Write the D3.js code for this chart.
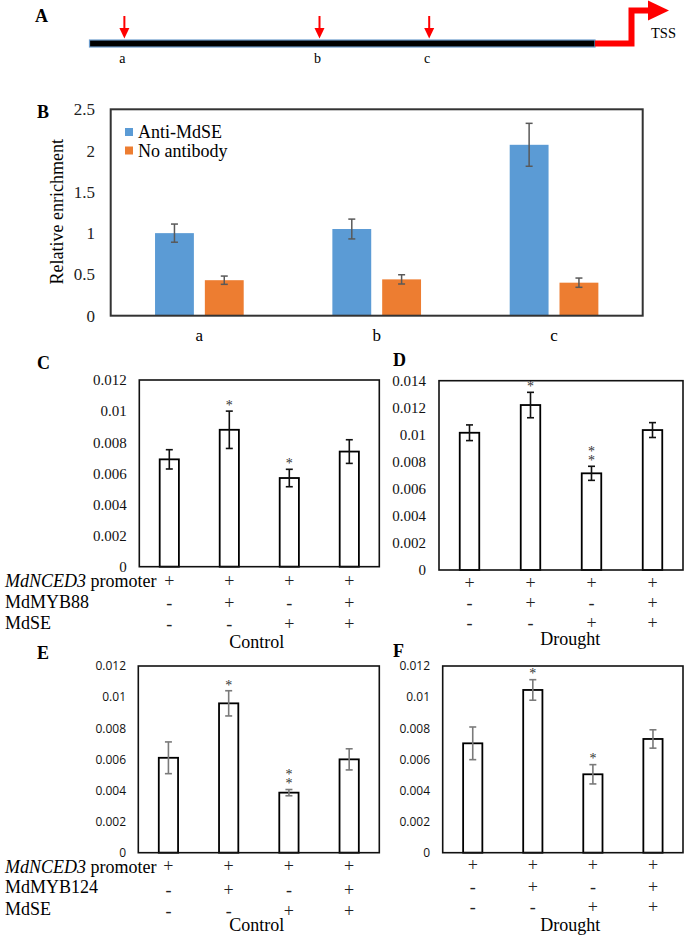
<!DOCTYPE html>
<html><head><meta charset="utf-8">
<script src="https://cdn.jsdelivr.net/npm/d3@7"></script>
<style>
body{margin:0;background:#fff}
svg{display:block}
</style>
</head><body>
<svg id="chart" width="685" height="935"></svg>
<script>
// ---------------- DATA ----------------
// Panel A: ChIP sites along the MdNCED3 promoter (fraction of promoter length, 5' -> TSS)
const sitesA = ["a", "b", "c"];
const sitePosA = [0.069, 0.455, 0.672];

// Panel B: ChIP-qPCR
const catsB = ["a", "b", "c"];
const seriesB = ["Anti-MdSE", "No antibody"];
const antiMdSE = [1.00, 1.05, 2.07];
const antiMdSEErr = [0.11, 0.12, 0.26];
const noAntibody = [0.43, 0.44, 0.40];
const noAntibodyErr = [0.05, 0.056, 0.056];
const ticksB = [0, 0.5, 1, 1.5, 2, 2.5];
const tickLabelsB = ["0", "0.5", "1", "1.5", "2", "2.5"];

// Panels C-F: LUC/REN
const ticks012 = [0, 0.002, 0.004, 0.006, 0.008, 0.01, 0.012];
const tickLabels012 = ["0", "0.002", "0.004", "0.006", "0.008", "0.01", "0.012"];
const ticks014 = [0, 0.002, 0.004, 0.006, 0.008, 0.01, 0.012, 0.014];
const tickLabels014 = ["0", "0.002", "0.004", "0.006", "0.008", "0.01", "0.012", "0.014"];

const groups = ["g1", "g2", "g3", "g4"];
const valsC = [0.0069, 0.0088, 0.0057, 0.0074];
const errC  = [0.00062, 0.0012, 0.00056, 0.00076];
const sigC  = ["", "*", "*", ""];
const valsD = [0.01015, 0.0122, 0.00715, 0.01035];
const errD  = [0.00058, 0.00094, 0.00052, 0.00055];
const sigD  = ["", "*", "**", ""];
const valsE = [0.0061, 0.0096, 0.00386, 0.0060];
const errE  = [0.00102, 0.00081, 0.0002, 0.00068];
const sigE  = ["", "*", "**", ""];
const valsF = [0.00703, 0.01046, 0.00504, 0.00731];
const errF  = [0.00105, 0.00066, 0.00062, 0.00059];
const sigF  = ["", "*", "*", ""];

const promoterRow = ["+", "+", "+", "+"];
const tfRow = ["-", "+", "-", "+"];
const seRow = ["-", "-", "+", "+"];
const rowLabelsCD = ["promoter", "MdMYB88", "MdSE"];
const rowLabelsEF = ["promoter", "MdMYB124", "MdSE"];

// ---------------- DRAW ----------------
const SERIF = '"Liberation Serif","Times New Roman",serif';
const SANS = '"Open Sans","Noto Sans",sans-serif';
const svg = d3.select("#chart").attr("font-family", SERIF);

function txt(x, y, size, s) {
  return svg.append("text").attr("x", x).attr("y", y).attr("font-size", size)
    .attr("font-family", SERIF).attr("fill", "#000").text(s);
}
function letter(t, x, y) { txt(x, y, 18, t).attr("font-weight", "bold"); }

// ---- Panel A ----
letter("A", 35, 21.7);
const xA = d3.scaleLinear().domain([0, 1]).range([89.5, 595]);
svg.append("rect").attr("x", xA(0)).attr("y", 40).attr("width", xA(1) - xA(0)).attr("height", 7)
  .attr("fill", "#000").attr("stroke", "#6d9ccc").attr("stroke-width", 1.2);
svg.append("path").attr("d", `M${xA(1)},43.5 H631.5 V10.5 H650`)
  .attr("fill", "none").attr("stroke", "#ff0000").attr("stroke-width", 6);
svg.append("path").attr("d", "M648,0.5 L669,10.5 L648,20.5 Z").attr("fill", "#ff0000");
txt(651, 38.3, 14.5, "TSS");
sitesA.forEach((s, i) => {
  const x = xA(sitePosA[i]);
  svg.append("line").attr("x1", x).attr("x2", x).attr("y1", 16).attr("y2", 30)
    .attr("stroke", "#ff0000").attr("stroke-width", 2);
  svg.append("path").attr("d", `M${x - 5},28 L${x + 5},28 L${x},38.5 Z`).attr("fill", "#ff0000");
  txt(x - 2, 63.3, 14, s).attr("text-anchor", "middle");
});

// ---- Panel B ----
letter("B", 37, 118.3);
const B = {left: 110.7, right: 642.7, top: 109.3, bottom: 315.7};
const yB = d3.scaleLinear().domain([0, 2.5]).range([B.bottom, B.top]);
const xB = d3.scaleBand().domain(catsB).range([B.left, B.right]);
const bw = xB.bandwidth();
const xB1 = d3.scaleBand().domain(seriesB).range([0.25 * bw, 0.75 * bw]).paddingInner(0.22);
const colorsB = {"Anti-MdSE": "#5b9bd5", "No antibody": "#ed7d31"};
const seriesData = {"Anti-MdSE": [antiMdSE, antiMdSEErr], "No antibody": [noAntibody, noAntibodyErr]};

const axB = svg.append("g").attr("transform", `translate(${B.left},0)`)
  .call(d3.axisLeft(yB).tickValues(ticksB).tickFormat((d, i) => tickLabelsB[i]).tickSize(0).tickPadding(15.7));
axB.select(".domain").remove();
axB.attr("font-family", SERIF).attr("font-size", 17);
axB.selectAll("text").attr("font-family", SERIF).attr("font-size", 17).attr("fill", "#222");

seriesB.forEach(s => {
  const [vals, errs] = seriesData[s];
  catsB.forEach((c, i) => {
    const x0 = xB(c) + xB1(s);
    svg.append("rect").attr("x", x0).attr("y", yB(vals[i])).attr("width", xB1.bandwidth())
      .attr("height", yB(0) - yB(vals[i])).attr("fill", colorsB[s]);
    const cx = x0 + xB1.bandwidth() / 2;
    const e = svg.append("g").attr("stroke", "#595959").attr("stroke-width", 1.5);
    e.append("line").attr("x1", cx).attr("x2", cx).attr("y1", yB(vals[i] + errs[i])).attr("y2", yB(vals[i] - errs[i]));
    [vals[i] + errs[i], vals[i] - errs[i]].forEach(v =>
      e.append("line").attr("x1", cx - 3.5).attr("x2", cx + 3.5).attr("y1", yB(v)).attr("y2", yB(v)));
  });
});
svg.append("rect").attr("x", B.left).attr("y", B.top).attr("width", B.right - B.left)
  .attr("height", B.bottom - B.top).attr("fill", "none").attr("stroke", "#333").attr("stroke-width", 2);
catsB.forEach(c => txt(xB(c) + bw / 2, 341, 17, c).attr("text-anchor", "middle"));
svg.append("text").attr("transform", `translate(63,211.7) rotate(-90)`).attr("text-anchor", "middle")
  .attr("font-family", SERIF).attr("font-size", 18).text("Relative enrichment");
seriesB.forEach((s, i) => {
  svg.append("rect").attr("x", 125).attr("y", 128 + i * 18.5).attr("width", 8).attr("height", 8).attr("fill", colorsB[s]);
  txt(138, 138.3 + i * 18.4, 18, s);
});

// ---- Panels C-F ----
function lucPanel(cfg) {
  const y = d3.scaleLinear().domain([0, cfg.max]).range([cfg.bottom, cfg.top]);
  const x = d3.scaleBand().domain(groups).range([cfg.left, cfg.right]).paddingInner(0.68).paddingOuter(0.34);
  const ax = svg.append("g").attr("transform", `translate(${cfg.left},0)`)
    .call(d3.axisLeft(y).tickValues(cfg.ticks).tickFormat((d, i) => cfg.tickLabels[i]).tickSize(0).tickPadding(cfg.pad));
  ax.select(".domain").remove();
  ax.attr("font-family", cfg.tickFont).attr("font-size", cfg.tickSize);
  ax.selectAll("text").attr("font-family", cfg.tickFont).attr("font-size", cfg.tickSize).attr("fill", "#111");

  groups.forEach((g, i) => {
    const v = cfg.vals[i], e = cfg.errs[i];
    svg.append("rect").attr("x", x(g)).attr("y", y(v)).attr("width", x.bandwidth())
      .attr("height", y(0) - y(v)).attr("fill", "#fff").attr("stroke", "#000").attr("stroke-width", 1.8);
    const cx = x(g) + x.bandwidth() / 2;
    const eg = svg.append("g").attr("stroke", cfg.errColor).attr("stroke-width", 1.6);
    eg.append("line").attr("x1", cx).attr("x2", cx).attr("y1", y(v + e)).attr("y2", y(v - e));
    [v + e, v - e].forEach(t =>
      eg.append("line").attr("x1", cx - 3.5).attr("x2", cx + 3.5).attr("y1", y(t)).attr("y2", y(t)));
    const stars = cfg.sig[i].length;
    if (stars > 0) {
      // stacked asterisks in one text element, bottom star just above the error bar
      const topCenter = y(v + e) - 7.5 - 9 * (stars - 1);
      const t = svg.append("text").attr("font-family", SERIF).attr("font-size", 14)
        .attr("text-anchor", "middle").attr("fill", "#333");
      for (let k = 0; k < stars; k++) {
        t.append("tspan").attr("x", cx).attr("y", topCenter + 9 * k + 6.3).text("*");
      }
    }
    [promoterRow, tfRow, seRow].forEach((row, r) => {
      txt(cx, cfg.signY[r], 18, row[i]).attr("text-anchor", "middle").attr("fill", "#222");
    });
  });
  svg.append("rect").attr("x", cfg.left).attr("y", cfg.top).attr("width", cfg.right - cfg.left)
    .attr("height", cfg.bottom - cfg.top).attr("fill", "none").attr("stroke", "#111").attr("stroke-width", 1.6);

  if (cfg.rowLabels) {
    const t0 = txt(5, cfg.labelY[0], 18, null);
    t0.append("tspan").attr("font-style", "italic").text("MdNCED3");
    t0.append("tspan").text(" " + cfg.rowLabels[0]);
    for (let r = 1; r < 3; r++) txt(5, cfg.labelY[r], 18, cfg.rowLabels[r]);
  }
  txt(cfg.condX, cfg.condY, 18, cfg.cond).attr("text-anchor", "middle");
  letter(cfg.letter, cfg.letterX, cfg.letterY);
}

lucPanel({letter: "C", letterX: 37, letterY: 369, left: 139.3, right: 379.3, top: 380, bottom: 566.7,
  max: 0.012, ticks: ticks012, tickLabels: tickLabels012, pad: 12.6, tickFont: SERIF, tickSize: 15,
  vals: valsC, errs: errC, sig: sigC, errColor: "#111",
  signY: [586.5, 609, 630], rowLabels: rowLabelsCD, labelY: [586.7, 608.3, 629],
  cond: "Control", condX: 256.7, condY: 648});
lucPanel({letter: "D", letterX: 393, letterY: 366, left: 439, right: 683, top: 380.7, bottom: 570,
  max: 0.014, ticks: ticks014, tickLabels: tickLabels014, pad: 13, tickFont: SERIF, tickSize: 15,
  vals: valsD, errs: errD, sig: sigD, errColor: "#111",
  signY: [589.4, 609.4, 628.7], rowLabels: null,
  cond: "Drought", condX: 570.3, condY: 645});
lucPanel({letter: "E", letterX: 37, letterY: 659, left: 138.3, right: 379.3, top: 666, bottom: 852.7,
  max: 0.012, ticks: ticks012, tickLabels: tickLabels012, pad: 12.3, tickFont: SANS, tickSize: 12,
  vals: valsE, errs: errE, sig: sigE, errColor: "#7a7a7a",
  signY: [871.7, 896, 917], rowLabels: rowLabelsEF, labelY: [872.5, 893.3, 915],
  cond: "Control", condX: 256.7, condY: 931});
lucPanel({letter: "F", letterX: 393, letterY: 656.7, left: 442.7, right: 683, top: 666, bottom: 852.7,
  max: 0.012, ticks: ticks012, tickLabels: tickLabels012, pad: 12.7, tickFont: SANS, tickSize: 12,
  vals: valsF, errs: errF, sig: sigF, errColor: "#7a7a7a",
  signY: [871.4, 892.7, 912.7], rowLabels: null,
  cond: "Drought", condX: 570.3, condY: 930.5});
</script>
</body></html>
